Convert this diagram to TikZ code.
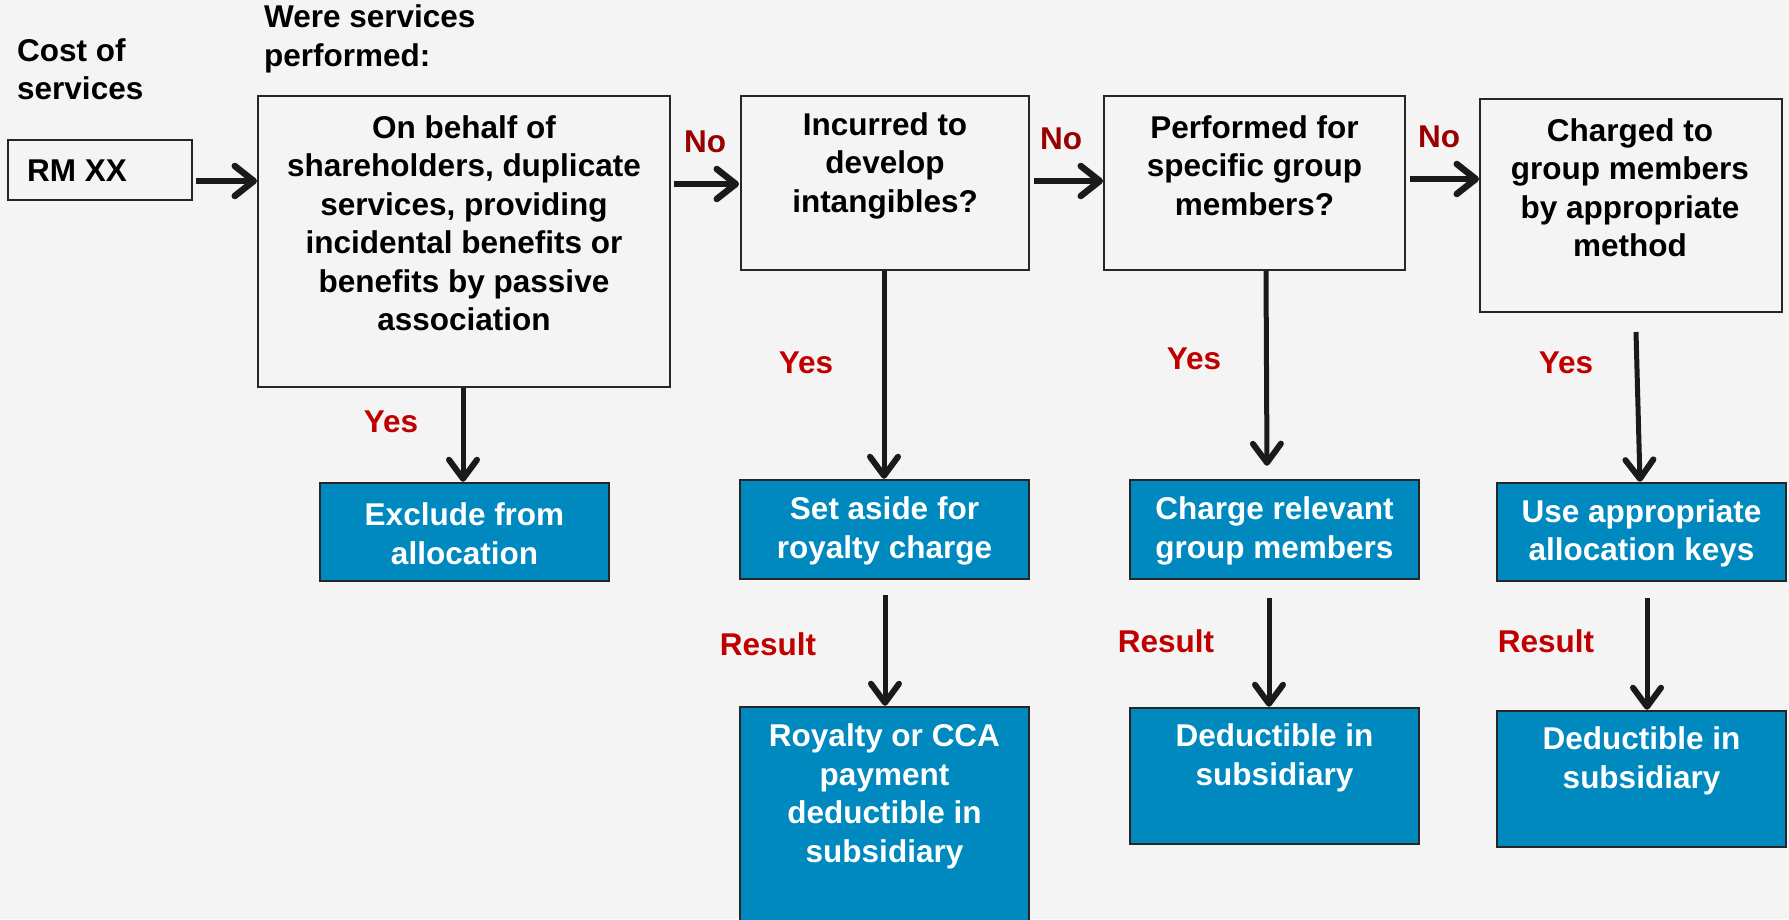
\documentclass[tikz,border=0pt]{standalone}
\usepackage{fontspec}
\setmainfont{Liberation Sans}
\usetikzlibrary{arrows.meta}
\definecolor{bg}{HTML}{F4F4F4}
\definecolor{blu}{HTML}{0089BF}
\definecolor{dred}{HTML}{990000}
\definecolor{lred}{HTML}{C00000}
\definecolor{edge}{HTML}{262626}
\definecolor{ink}{HTML}{1A1A1A}
\begin{document}
\begin{tikzpicture}[x=1pt,y=-1pt,
  font=\fontsize{31.5}{38.5}\selectfont\bfseries,
  qbox/.style={draw=edge, line width=2pt, fill=bg, inner sep=0pt},
  bbox/.style={draw=edge, line width=2.5pt, fill=blu, inner sep=0pt},
  qtxt/.style={align=center, inner sep=0pt, text=black},
  btxt/.style={align=center, inner sep=0pt, text=white},
  ltxt/.style={align=left, inner sep=0pt, text=black, anchor=west},
  nolbl/.style={inner sep=0pt, text=dred},
  yeslbl/.style={inner sep=0pt, text=lred},
  arrH/.style={draw=ink, line width=6pt, -{Straight Barb[length=19pt,width=30pt,line width=6.5pt,round]}},
  arrV/.style={draw=ink, line width=5pt, -{Straight Barb[length=19pt,width=28pt,line width=6pt,round]}}
]
\fill[bg] (0,0) rectangle (1789,919);
\useasboundingbox (0,0) rectangle (1789,919);

% left labels
\node[ltxt] (cost) at (17,69) {Cost of\\services};
\node[ltxt] (were) at (264,39) {Were services\\performed:};
\node[draw=edge, line width=2pt, fill=bg, minimum width=184pt, minimum height=60pt, inner sep=0pt] (rm) at (100,170) {};
\node[ltxt] (rmt) at (27,171) {RM XX};

% question boxes
\node[qbox, minimum width=412pt, minimum height=291pt] (b1) at (464,241.5) {};
\node[qtxt] (b1t) at (464,223) {On behalf of\\shareholders, duplicate\\services, providing\\incidental benefits or\\benefits by passive\\association};
\node[qbox, minimum width=288pt, minimum height=174pt] (b2) at (885,183) {};
\node[qtxt] (b2t) at (885,165.5) {Incurred to\\develop\\intangibles?};
\node[qbox, minimum width=301pt, minimum height=174pt] (b3) at (1254.5,183) {};
\node[qtxt] (b3t) at (1254.5,165.5) {Performed for\\specific group\\members?};
\node[qbox, minimum width=302pt, minimum height=213pt] (b4) at (1631,205.5) {};
\node[qtxt] (b4t) at (1630,187.5) {Charged to\\group members\\by appropriate\\method};

% blue boxes
\node[bbox, minimum width=289pt, minimum height=98pt] (ex) at (464.5,532) {};
\node[btxt] (ext) at (464.5,533.5) {Exclude from\\allocation};
\node[bbox, minimum width=289pt, minimum height=99pt] (sa) at (884.5,529.5) {};
\node[btxt] (sat) at (884.5,531) {Set aside for\\royalty charge};
\node[bbox, minimum width=289pt, minimum height=223pt] (ry) at (884.5,818.5) {};
\node[btxt] (ryt) at (884.5,796.5) {Royalty or CCA\\payment\\deductible in\\subsidiary};
\node[bbox, minimum width=289pt, minimum height=99pt] (cr) at (1274.5,529.5) {};
\node[btxt] (crt) at (1274.5,531) {Charge relevant\\group members};
\node[bbox, minimum width=289pt, minimum height=136pt] (d1) at (1274.5,776) {};
\node[btxt] (d1t) at (1274.5,758) {Deductible in\\subsidiary};
\node[bbox, minimum width=289pt, minimum height=98pt] (ua) at (1641.5,532) {};
\node[btxt] (uat) at (1641.5,533.5) {Use appropriate\\allocation keys};
\node[bbox, minimum width=289pt, minimum height=136pt] (d2) at (1641.5,779) {};
\node[btxt] (d2t) at (1641.5,761) {Deductible in\\subsidiary};

% horizontal arrows
\draw[arrH] ([shift={(3,11)}]rm.east) -- ([shift={(0,-60.5)}]b1.west);
\draw[arrH] ([shift={(3,-57.5)}]b1.east) -- ([shift={(-1,1)}]b2.west);
\draw[arrH] ([shift={(4,-2)}]b2.east) -- ([shift={(0,-2)}]b3.west);
\draw[arrH] ([shift={(4,-4)}]b3.east) -- ([shift={(0,-26.5)}]b4.west);

% vertical arrows
\draw[arrV] ([shift={(-1,0)}]b1.south) -- ([shift={(-1.5,0)}]ex.north);
\draw[arrV] ([shift={(-1,0)}]b2.south) -- ([shift={(-0.5,0)}]sa.north);
\draw[arrV] ([shift={(11.5,0)}]b3.south) -- ([shift={(-7.5,-13)}]cr.north);
\draw[arrV] ([shift={(5,19)}]b4.south) -- ([shift={(-1.5,0)}]ua.north);
\draw[arrV] ([shift={(0.5,15)}]sa.south) -- ([shift={(0.5,0)}]ry.north);
\draw[arrV] ([shift={(-5.5,18)}]cr.south) -- ([shift={(-5.5,0)}]d1.north);
\draw[arrV] ([shift={(5.5,16)}]ua.south) -- ([shift={(5.5,0)}]d2.north);

% labels
\node[nolbl] (no1) at (705,142) {No};
\node[nolbl] (no2) at (1061,139) {No};
\node[nolbl] (no3) at (1439,137) {No};
\node[yeslbl] (y1) at (391,422) {Yes};
\node[yeslbl] (y2) at (806,363) {Yes};
\node[yeslbl] (y3) at (1194,359) {Yes};
\node[yeslbl] (y4) at (1566,363) {Yes};
\node[yeslbl] (r1) at (768,644) {Result};
\node[yeslbl] (r2) at (1166,641) {Result};
\node[yeslbl] (r3) at (1546,641) {Result};
\end{tikzpicture}
\end{document}
